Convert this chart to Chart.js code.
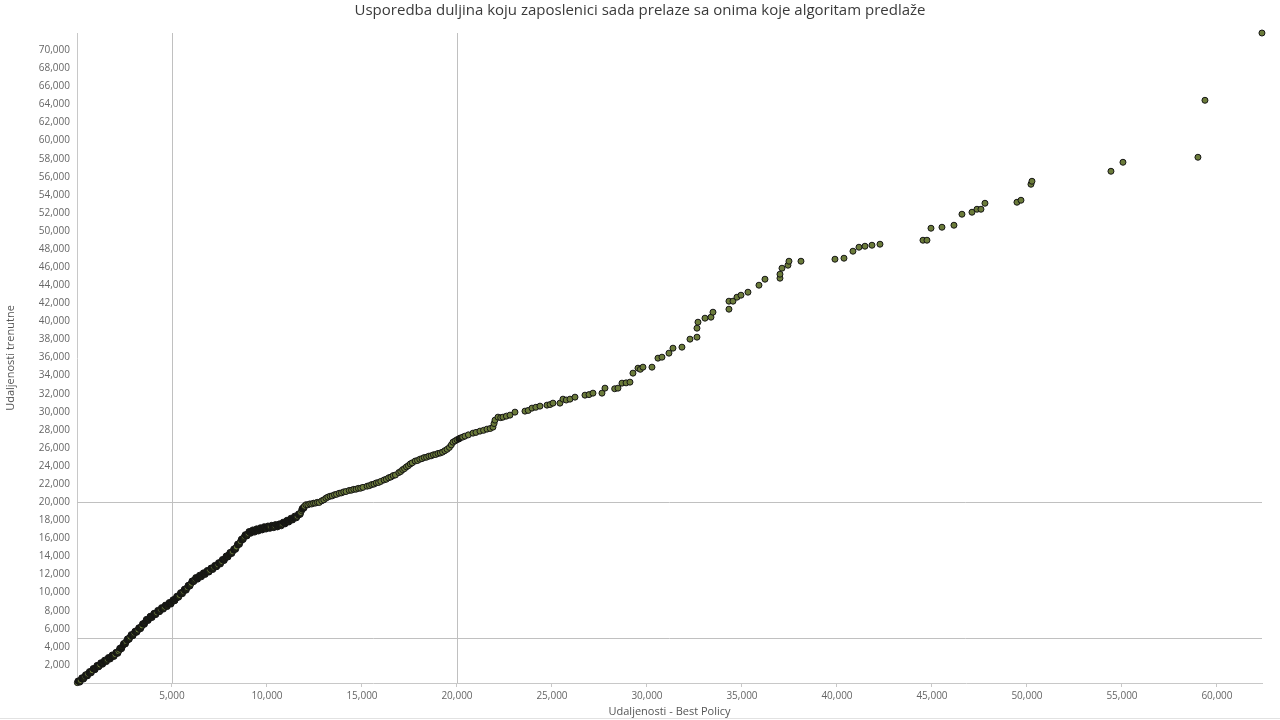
<!DOCTYPE html>
<html>
<head>
<meta charset="utf-8">
<script src="https://cdn.jsdelivr.net/npm/chart.js@4/dist/chart.umd.min.js"></script>
<style>
  html, body { margin: 0; padding: 0; background: #ffffff; }
  #wrap { width: 1280px; height: 720px; }
</style>
</head>
<body>
<div id="wrap"><canvas id="c" width="1280" height="720"></canvas></div>
<script>
const chartTitle = 'Usporedba duljina koju zaposlenici sada prelaze sa onima koje algoritam predlaže';
const xTitle = 'Udaljenosti - Best Policy';
const yTitle = 'Udaljenosti trenutne';

// Reference lines drawn on both axes
const refLines = [5000, 20000];

// Axis ranges and tick values
const xRange = [0, 62370];
const yRange = [0, 71900];
const xTicks = [5000,10000,15000,20000,25000,30000,35000,40000,45000,50000,55000,60000];
const yTicks = [2000,4000,6000,8000,10000,12000,14000,16000,18000,20000,22000,24000,26000,28000,30000,32000,34000,36000,38000,40000,42000,44000,46000,48000,50000,52000,54000,56000,58000,60000,62000,64000,66000,68000,70000];

// Dense part of the curve
const denseX = [20,100,180,250,330,410,480,560,640,720,800,880,960,1040,
1120,1200,1280,1360,1440,1520,1600,1680,1760,1840,1920,2000,2080,
2160,2230,2300,2370,2440,2510,2580,2650,2720,2790,
2860,2930,3000,3070,3140,3210,3280,
3350,3420,3490,3560,3630,
3700,3770,3840,3910,3980,4050,4120,4190,4260,4330,
4400,4470,4540,4610,4680,4750,4820,4890,4960,
5030,5100,5170,5240,5310,5380,5450,5520,5590,5660,5730,
5800,5870,5940,6010,6080,6150,
6220,6290,6360,6430,6500,6570,6640,6710,6780,6850,6920,6990,
7060,7130,7200,7270,7340,7410,7480,
7550,7620,7690,7760,7830,7900,7970,8040,8110,8180,8250,
8320,8390,8460,8530,8600,8670,8740,
8810,8880,8950,9020,9090,
9160,9230,9300,9370,9440,9510,9580,9650,9720,9790,
9870,9950,10030,10110,10190,10270,10350,10430,10510,10590,10670,
10750,10820,10890,10960,11030,11100,11170,
11240,11310,11380,11450,11520,11590,11660,
11720,11770,11820,11870,11920,11970,
12050,12150,12250,12350,12450,12550,12650,12750,
12880,12990,13100,13200,
13320,13430,13550,13660,
13800,13920,14040,14160,
14330,14450,14570,14690,14810,14930,15050,
15270,15390,15510,15630,15750,15870,15990,
16160,16280,16400,16520,16640,16760,
16940,17040,17140,17240,17340,17440,17540,17640,
17800,17920,18040,18160,18280,18400,18520,18640,
18760,18880,19000,19120,19240,
19360,19480,19600,
19700,19789,19900,20000,20100];

const denseY = [40,190,280,450,540,730,800,990,1080,1270,1350,1540,1630,1800,
1920,1990,2150,2220,2380,2450,2610,2690,2840,2910,3070,3150,3300,
3480,3620,3850,3980,4210,4340,4570,4700,4930,5070,
5240,5330,5510,5600,5770,5860,6040,
6180,6310,6520,6650,6850,
7010,7090,7240,7310,7470,7540,7690,7770,7920,7990,
8130,8200,8330,8390,8530,8590,8720,8790,8920,
9030,9140,9310,9410,9580,9690,9860,9960,10130,10240,10400,
10540,10680,10880,11020,11220,11360,
11480,11550,11670,11730,11850,11920,12040,12100,12220,12280,12400,12470,
12600,12670,12800,12880,13010,13080,13220,
13330,13440,13600,13710,13880,13980,14150,14260,14420,14530,14690,
14880,15040,15260,15420,15640,15800,16020,
16190,16290,16440,16540,16680,
16760,16740,16840,16830,16930,16910,17010,17000,17090,17080,
17170,17160,17240,17220,17300,17280,17360,17340,17420,17400,17480,
17560,17590,17700,17740,17850,17890,18000,
18080,18120,18240,18290,18400,18450,18570,
18720,18860,19070,19210,19420,19560,
19720,19710,19810,19800,19890,19900,19980,19970,
20150,20260,20440,20560,
20660,20700,20820,20870,
20990,21030,21140,21180,
21300,21330,21420,21440,21530,21550,21640,
21770,21830,21950,22000,22130,22180,22300,
22460,22540,22700,22780,22940,23010,
23280,23400,23600,23720,23910,24040,24230,24350,
24550,24610,24750,24820,24940,24980,25090,25130,
25240,25280,25390,25440,25540,
25700,25850,26060,
26340,26640,26780,26910,26990];

// Second band of points along the dense part
const bandX = [50,150,250,350,450,550,650,750,850,950,1050,
1150,1250,1350,1450,1550,1650,1750,1850,1950,2050,
2150,2250,2350,2450,2550,2650,2750,
2850,2950,3050,3150,3250,
3350,3450,3550,3650,
3750,3850,3950,4050,4150,4250,4350,
4450,4550,4650,4750,4850,4950,
5050,5150,5250,5350,5450,5550,5650,5750,
5850,5950,6050,6150,
6250,6350,6450,6550,6650,6750,6850,6950,
7050,7150,7250,7350,7450,
7550,7650,7750,7850,7950,8050,8150,8250,
8350,8450,8550,8650,8750,
8850,8950,9050,
9150,9250,9350,9450,9550,9650,9750,
9850,9950,10050,10150,10250,10350,10450,10550,10650,
10750,10850,10950,11050,11150,
11250,11350,11450,11550,11650,
11750,11850,11950];

const bandY = [225,97,569,441,913,785,1257,1129,1601,1473,1945,
1792,2236,2080,2524,2368,2812,2656,3100,2944,3388,
3284,3843,3802,4361,4320,4879,4838,
5351,5240,5729,5618,6107,
6013,6553,6493,7033,
6922,7384,7246,7708,7570,8032,7894,
8336,8176,8616,8456,8896,8736,
9203,9099,9595,9491,9987,9883,10379,10275,
10799,10739,11279,11219,
11659,11490,11921,11752,12183,12014,12445,12276,
12717,12564,13011,12858,13305,
13164,13659,13554,14049,13944,14439,14334,14829,
14792,15365,15338,15911,15885,
16399,16274,16749,
16572,16932,16692,17052,16812,17172,16932,
17290,17029,17368,17107,17446,17185,17524,17263,17602,
17387,17792,17597,18002,17807,
18218,18035,18452,18269,18686,
18655,19305,19355];

// Sparse part of the curve
const sparseX = [20157,20300,20420,20600,20841,21000,21210,21400,21578,21750,21894,21950,22000,22157,22300,22420,22600,22789,23052,23578,23750,23947,24150,24368,24736,24900,25052,25420,25578,25750,25947,26210,26736,26950,27157,27631,27789,28300,28473,28684,28900,29105,29262,29526,29650,29789,30263,30578,30789,31157,31368,31841,32263,32631,32631,32684,33052,33368,33473,34315,34315,34526,34736,34947,35315,35894,36210,37000,37000,37105,37420,37473,38105,39894,40368,40841,41157,41473,41841,42263,44526,44736,44947,45526,46157,46578,47105,47368,47578,47789,49473,49684,50210,50263,54420,55052,58999,59368,62368];

const sparseY = [27087,27200,27308,27450,27640,27720,27861,27950,28082,28150,28303,28700,29077,29409,29350,29409,29520,29630,29962,30072,30150,30404,30500,30625,30736,30800,30957,30957,31399,31300,31399,31620,31841,31900,32062,32062,32615,32550,32615,33168,33200,33279,34274,34826,34700,34937,34937,35932,36043,36485,37038,37148,38033,38254,39249,39912,40354,40465,41018,41349,42234,42234,42676,42897,43229,44003,44666,44777,45219,45882,46214,46656,46656,46877,46988,47762,48204,48315,48425,48536,48978,48978,50305,50415,50637,51853,52074,52405,52405,53069,53180,53400,55169,55501,56607,57602,58155,64456,71897];

const allX = denseX.concat(bandX, sparseX);
const allY = denseY.concat(bandY, sparseY);
const points = allX.map((x, i) => ({ x: x, y: allY[i] })).sort((a, b) => a.x - b.x);

const markerFill = '#6b7b3a';
const markerEdge = '#151515';
const overlapFill = '#1d2012';

// Where markers pile up (neighbours closer than ~1.6 px) the overlapping
// outlines dominate, as in the reference; show that as a darker fill.
function fillFor(ctx) {
  const chart = ctx.chart;
  const sx = chart.scales.x, sy = chart.scales.y;
  const i = ctx.dataIndex;
  if (i === undefined || !sx || !sy) return markerFill;
  const p = points[i];
  const px = sx.getPixelForValue(p.x), py = sy.getPixelForValue(p.y);
  let minD = Infinity;
  [i - 1, i + 1].forEach(j => {
    if (j >= 0 && j < points.length) {
      const q = points[j];
      const d = Math.hypot(sx.getPixelForValue(q.x) - px, sy.getPixelForValue(q.y) - py);
      if (d < minD) minD = d;
    }
  });
  return minD < 1.7 ? overlapFill : markerFill;
}

const refLinePlugin = {
  id: 'refLines',
  beforeDatasetsDraw(chart) {
    const { ctx, chartArea, scales } = chart;
    ctx.save();
    ctx.lineWidth = 1;
    ctx.strokeStyle = '#c0c0c0';
    refLines.forEach(v => {
      const px = Math.round(scales.x.getPixelForValue(v)) + 0.5;
      ctx.beginPath();
      ctx.moveTo(px, chartArea.top);
      ctx.lineTo(px, chartArea.bottom);
      ctx.stroke();
      const py = Math.round(scales.y.getPixelForValue(v)) + 0.5;
      ctx.beginPath();
      ctx.moveTo(chartArea.left, py);
      ctx.lineTo(chartArea.right, py);
      ctx.stroke();
    });
    ctx.restore();
  },
  afterDraw(chart) {
    const ctx = chart.ctx;
    ctx.save();
    ctx.strokeStyle = '#e2e2e2';
    ctx.lineWidth = 1;
    ctx.beginPath();
    ctx.moveTo(0, 718.5);
    ctx.lineTo(chart.width, 718.5);
    ctx.stroke();
    ctx.restore();
  }
};

const fontFamily = '"Open Sans", "Segoe UI", Arial, sans-serif';
const fmt = (v) => v.toLocaleString('en-US');

new Chart(document.getElementById('c'), {
  type: 'scatter',
  data: {
    datasets: [{
      data: points,
      backgroundColor: fillFor,
      borderColor: markerEdge,
      borderWidth: 1,
      pointRadius: 3,
      pointHoverRadius: 3,
      clip: false
    }]
  },
  plugins: [refLinePlugin],
  options: {
    responsive: false,
    animation: false,
    locale: 'en-US',
    layout: { padding: 0 },
    plugins: {
      legend: { display: false },
      tooltip: { enabled: false },
      title: {
        display: true,
        text: chartTitle,
        color: '#3a3a3a',
        font: { family: fontFamily, size: 15, weight: 'normal' },
        padding: { top: 2, bottom: 13 }
      }
    },
    scales: {
      x: {
        type: 'linear',
        min: xRange[0],
        max: xRange[1],
        afterFit(scale) { scale.height = 37; },
        afterBuildTicks(scale) { scale.ticks = xTicks.map(v => ({ value: v })); },
        grid: { display: true, drawOnChartArea: false, drawTicks: true, tickLength: 4, color: '#c8c8c8' },
        border: { display: true, color: '#c8c8c8', width: 1 },
        ticks: {
          maxRotation: 0,
          autoSkip: false,
          padding: 3,
          color: '#666666',
          font: { family: fontFamily, size: 10 },
          callback: (v) => fmt(v)
        },
        title: {
          display: true,
          text: xTitle,
          color: '#555555',
          font: { family: fontFamily, size: 11 },
          padding: { top: 0, bottom: 2 }
        }
      },
      y: {
        type: 'linear',
        min: yRange[0],
        max: yRange[1],
        afterFit(scale) { scale.width = 77; },
        afterBuildTicks(scale) { scale.ticks = yTicks.map(v => ({ value: v })); },
        grid: { display: false, drawTicks: false },
        border: { display: true, color: '#c8c8c8', width: 1 },
        ticks: {
          autoSkip: false,
          padding: 7,
          color: '#666666',
          font: { family: fontFamily, size: 10 },
          callback: (v) => fmt(v)
        },
        title: {
          display: true,
          text: yTitle,
          color: '#555555',
          font: { family: fontFamily, size: 11 },
          padding: { top: 4, bottom: 4 }
        }
      },
      yRight: {
        type: 'linear',
        position: 'right',
        display: true,
        afterFit(scale) { scale.width = 18; },
        grid: { display: false, drawTicks: false },
        border: { display: false },
        ticks: { display: false }
      }
    }
  }
});
</script>
</body>
</html>
